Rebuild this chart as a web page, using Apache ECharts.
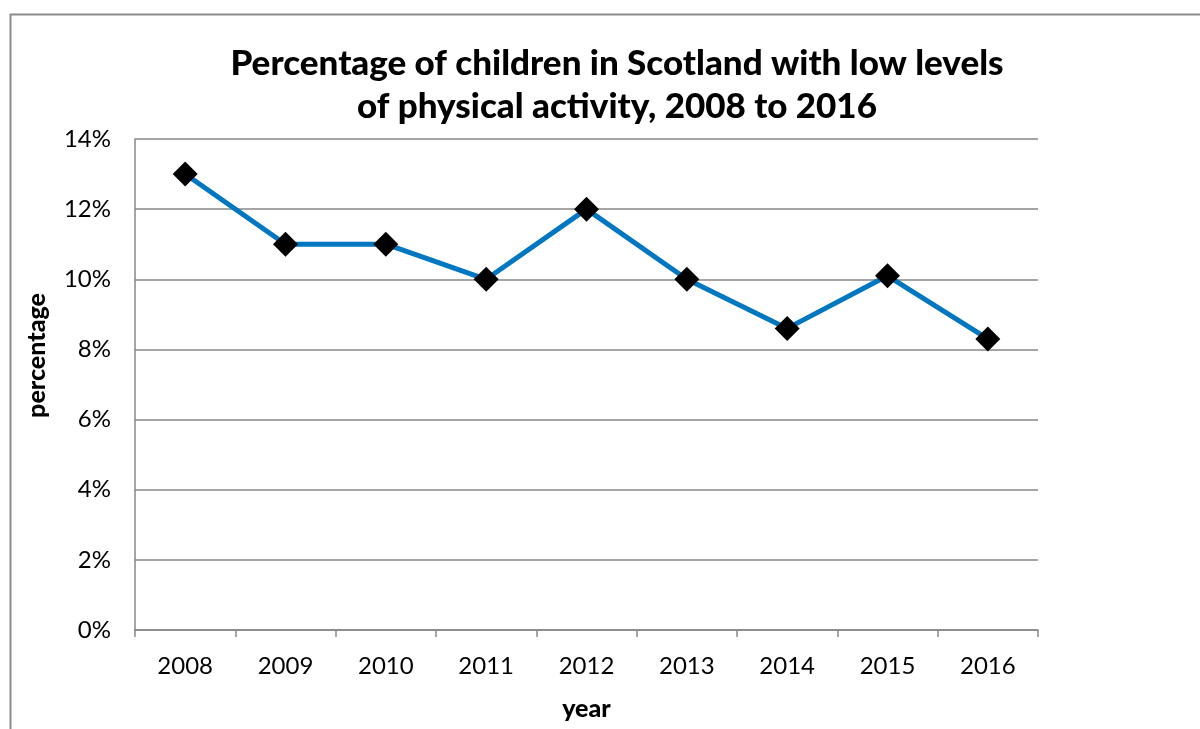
<!DOCTYPE html>
<html>
<head>
<meta charset="utf-8">
<script src="https://cdn.jsdelivr.net/npm/echarts@6/dist/echarts.min.js"></script>
<style>
  html, body { margin: 0; padding: 0; background: #fff; }
  #chart { width: 1200px; height: 729px; }
</style>
</head>
<body>
<div id="chart"></div>
<script>
// Survey years and share of children with low physical activity (%)
const years = ['2008', '2009', '2010', '2011', '2012', '2013', '2014', '2015', '2016'];
const lowActivity = [13.0, 11.0, 11.0, 10.0, 12.0, 10.0, 8.6, 10.1, 8.3];
const yTicks = [0, 2, 4, 6, 8, 10, 12, 14];

const FONT = 'Lato, "Open Sans", sans-serif';
const AXIS_GREY = '#878787';

const chart = echarts.init(document.getElementById('chart'), null, { renderer: 'canvas' });

chart.setOption({
  backgroundColor: '#ffffff',
  animation: false,
  title: {
    text: 'Percentage of children in Scotland with low levels\nof physical activity, 2008 to 2016',
    left: 612,
    top: 37,
    textAlign: 'center',
    textStyle: {
      fontFamily: FONT,
      fontWeight: 900,
      fontSize: 35,
      lineHeight: 43,
      color: '#000'
    }
  },
  graphic: [
    {
      type: 'rect',
      shape: { x: 10.5, y: 14.5, width: 1400, height: 1000 },
      style: { fill: 'none', stroke: '#8c8c8c', lineWidth: 2 },
      silent: true
    }
  ],
  grid: { left: 135, top: 139, width: 903, height: 491, containLabel: false },
  xAxis: {
    type: 'category',
    data: years,
    boundaryGap: true,
    name: 'year',
    nameLocation: 'middle',
    nameGap: 66,
    nameTextStyle: { fontFamily: FONT, fontWeight: 900, fontSize: 25, color: '#000' },
    axisLine: { lineStyle: { color: AXIS_GREY, width: 1.5 } },
    axisTick: { show: true, alignWithLabel: false, length: 7, lineStyle: { color: AXIS_GREY, width: 1.5 } },
    axisLabel: { fontFamily: FONT, fontSize: 24, color: '#000', margin: 24 },
    splitLine: { show: false }
  },
  yAxis: {
    type: 'value',
    min: yTicks[0],
    max: yTicks[yTicks.length - 1],
    interval: 2,
    name: 'percentage',
    nameLocation: 'middle',
    nameGap: 86,
    nameTextStyle: {
      fontFamily: FONT, fontWeight: 900, fontSize: 25, color: '#000',
      // lift the rotated title a little above the axis midpoint
      padding: [0, 0, 0, 58]
    },
    axisLine: { show: true, lineStyle: { color: AXIS_GREY, width: 1.5 } },
    axisTick: { show: false },
    axisLabel: {
      fontFamily: FONT, fontSize: 24, color: '#000', margin: 24,
      formatter: v => v + '%'
    },
    splitLine: { show: true, lineStyle: { color: AXIS_GREY, width: 1.5 } }
  },
  series: [
    {
      type: 'line',
      data: lowActivity,
      symbol: 'diamond',
      symbolSize: 25,
      itemStyle: { color: '#000000' },
      lineStyle: { color: '#0077C0', width: 5 },
      z: 3
    }
  ]
});
</script>
</body>
</html>
